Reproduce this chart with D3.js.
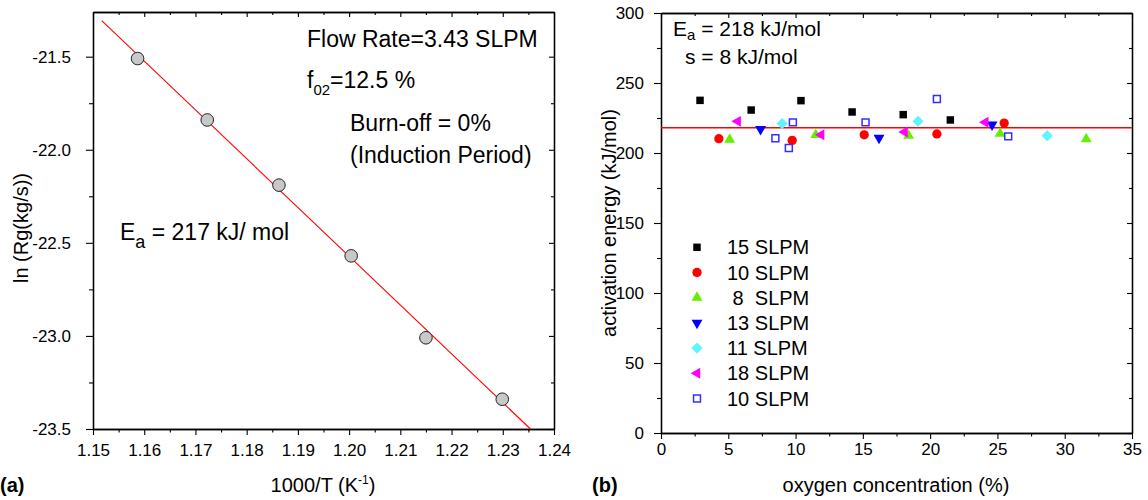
<!DOCTYPE html>
<html>
<head>
<meta charset="utf-8">
<script src="https://cdn.jsdelivr.net/npm/d3@7"></script>
<style>
  body { margin: 0; background: #fff; }
  svg { display: block; font-family: "Liberation Sans", Arial, sans-serif; }
</style>
</head>
<body>
<svg id="chart" width="1148" height="500"></svg>
<script>
// panel (a): Arrhenius plot
const invT = [1.1587, 1.1723, 1.1863, 1.2004, 1.2150, 1.2299];
const lnRg = [-21.51, -21.84, -22.19, -22.57, -23.01, -23.34];
const fitX = [1.1517, 1.2354];
const fitY = [-21.306, -23.5];
const aXTicks = [1.15, 1.16, 1.17, 1.18, 1.19, 1.20, 1.21, 1.22, 1.23, 1.24];
const aYTicks = [-23.5, -23.0, -22.5, -22.0, -21.5];

// panel (b): activation energy vs oxygen concentration
const seriesNames = ["15 SLPM", "10 SLPM", " 8  SLPM", "13 SLPM", "11 SLPM", "18 SLPM", "10 SLPM"];
const o2_15 = [2.9, 6.7, 10.4, 14.2, 18.0, 21.5];
const ea_15 = [237.6, 230.7, 237.4, 229.3, 227.4, 223.6];
const o2_10 = [4.3, 9.75, 15.1, 20.5, 25.5];
const ea_10 = [210.2, 209.0, 213.0, 213.6, 221.4];
const o2_8 = [5.1, 11.5, 18.4, 25.2, 31.6];
const ea_8 = [209.5, 213.0, 212.4, 213.8, 210.0];
const o2_13 = [7.4, 16.2, 24.6];
const ea_13 = [217.0, 210.7, 220.2];
const o2_11 = [9.0, 19.1, 28.7];
const ea_11 = [221.0, 222.6, 212.4];
const o2_18 = [5.7, 11.9, 18.1, 24.1];
const ea_18 = [222.6, 213.0, 215.0, 221.9];
const o2_10b = [8.5, 9.5, 9.8, 15.2, 20.5, 25.8];
const ea_10b = [210.5, 203.6, 221.9, 221.9, 238.6, 211.9];
const eaMean = 218;
const bXTicks = [0, 5, 10, 15, 20, 25, 30, 35];
const bYTicks = [0, 50, 100, 150, 200, 250, 300];

const svg = d3.select("#chart");
svg.append("rect").attr("width", 1148).attr("height", 500).attr("fill", "#fff");

function minorOf(ticks, step) {
  const out = [];
  for (let i = 0; i < ticks.length - 1; i++) out.push(+(ticks[i] + step).toFixed(6));
  return out;
}

function drawFrame(x, y, xt, yt, xStep, yStep, fx, fy, xPad, yPad) {
  const [yb, yt0] = y.range();
  const [xl, xr] = x.range();
  const xm = minorOf(xt, xStep), ym = minorOf(yt, yStep);
  const g = svg.append("g");
  const add = (axis, tr) => g.append("g").attr("transform", tr).call(axis.tickSizeOuter(0));
  add(d3.axisBottom(x).tickValues(xm).tickSize(3.5).tickFormat(""), `translate(0,${yb})`);
  add(d3.axisBottom(x).tickValues(xt).tickSize(6).tickPadding(xPad).tickFormat(fx), `translate(0,${yb})`);
  add(d3.axisTop(x).tickValues(xm).tickSize(-3).tickFormat(""), `translate(0,${yt0})`);
  add(d3.axisTop(x).tickValues(xt).tickSize(-5).tickFormat(""), `translate(0,${yt0})`);
  add(d3.axisLeft(y).tickValues(ym).tickSize(4).tickFormat(""), `translate(${xl},0)`);
  add(d3.axisLeft(y).tickValues(yt).tickSize(7).tickPadding(yPad).tickFormat(fy), `translate(${xl},0)`);
  add(d3.axisRight(y).tickValues(ym).tickSize(-3).tickFormat(""), `translate(${xr},0)`);
  add(d3.axisRight(y).tickValues(yt).tickSize(-5).tickFormat(""), `translate(${xr},0)`);
  g.selectAll(".domain").attr("stroke", "#000").attr("stroke-width", 1.3);
  g.selectAll(".tick line").attr("stroke", "#000").attr("stroke-width", 1.1);
  g.selectAll("text").attr("font-family", "Liberation Sans, Arial, sans-serif")
    .attr("font-size", 17).attr("fill", "#000");
  return g;
}

// ---------- panel (a) ----------
const xa = d3.scaleLinear().domain([1.15, 1.24]).range([93, 554]);
const ya = d3.scaleLinear().domain([-23.5, -21.26]).range([429, 12]);
drawFrame(xa, ya, aXTicks, aYTicks, 0.005, 0.25,
  d => d.toFixed(2), d => d.toFixed(1), 9, 15);

svg.append("line")
  .attr("x1", xa(fitX[0])).attr("y1", ya(fitY[0]))
  .attr("x2", xa(fitX[1])).attr("y2", ya(fitY[1]))
  .attr("stroke", "#ff0000").attr("stroke-width", 1.1);

svg.append("g").selectAll("circle")
  .data(invT)
  .join("circle")
  .attr("cx", d => xa(d))
  .attr("cy", (d, i) => ya(lnRg[i]))
  .attr("r", 6.3)
  .attr("fill", "#c8c8c8")
  .attr("stroke", "#222")
  .attr("stroke-width", 1);

const ta = svg.append("g").attr("font-size", 23).attr("fill", "#000");
ta.append("text").attr("x", 307).attr("y", 47).text("Flow Rate=3.43 SLPM");
const f02 = ta.append("text").attr("x", 307).attr("y", 88);
f02.append("tspan").text("f");
f02.append("tspan").attr("dy", 7).attr("font-size", 15).text("02");
f02.append("tspan").attr("dy", -7).text("=12.5 %");
ta.append("text").attr("x", 350).attr("y", 131).text("Burn-off = 0%");
ta.append("text").attr("x", 350).attr("y", 163).text("(Induction Period)");
const eaA = ta.append("text").attr("x", 120).attr("y", 240);
eaA.append("tspan").text("E");
eaA.append("tspan").attr("dy", 8).attr("font-size", 18).text("a");
eaA.append("tspan").attr("dy", -8).text(" = 217 kJ/ mol");

svg.append("text").attr("transform", "translate(28,228) rotate(-90)")
  .attr("text-anchor", "middle").attr("font-size", 20).text("ln (Rg(kg/s))");
const xtA = svg.append("text").attr("x", 323).attr("y", 492)
  .attr("text-anchor", "middle").attr("font-size", 20);
xtA.append("tspan").text("1000/T (K");
xtA.append("tspan").attr("dy", -8).attr("font-size", 12).text("-1");
xtA.append("tspan").attr("dy", 8).text(")");
svg.append("text").attr("x", 0).attr("y", 492).attr("font-size", 20)
  .attr("font-weight", "bold").text("(a)");

// ---------- panel (b) ----------
const xb = d3.scaleLinear().domain([0, 35]).range([661, 1132]);
const yb = d3.scaleLinear().domain([0, 300]).range([433, 13]);
drawFrame(xb, yb, bXTicks, bYTicks, 2.5, 25, d => d, d => d, 4, 10);

svg.append("line")
  .attr("x1", xb(0)).attr("x2", xb(35))
  .attr("y1", yb(eaMean)).attr("y2", yb(eaMean))
  .attr("stroke", "#ff0000").attr("stroke-width", 1.4);

const sq = d3.symbol(d3.symbolSquare, 56)();
const circ = d3.symbol(d3.symbolCircle, 68)();
const tri = d3.symbol(d3.symbolTriangle, 52)();
const dia = d3.symbol(d3.symbolSquare, 62)();
const openSq = d3.symbol(d3.symbolSquare, 48)();

const series = [
  { name: seriesNames[0], xs: o2_15, ys: ea_15, path: sq, rot: 0, fill: "#000", stroke: "none" },
  { name: seriesNames[1], xs: o2_10, ys: ea_10, path: circ, rot: 0, fill: "#ff0000", stroke: "none" },
  { name: seriesNames[2], xs: o2_8, ys: ea_8, path: tri, rot: 0, fill: "#66ee00", stroke: "none" },
  { name: seriesNames[3], xs: o2_13, ys: ea_13, path: tri, rot: 180, fill: "#0000ff", stroke: "none" },
  { name: seriesNames[4], xs: o2_11, ys: ea_11, path: dia, rot: 45, fill: "#5ff5ff", stroke: "none" },
  { name: seriesNames[5], xs: o2_18, ys: ea_18, path: tri, rot: -90, fill: "#ff00ff", stroke: "none" },
  { name: seriesNames[6], xs: o2_10b, ys: ea_10b, path: openSq, rot: 0, fill: "#fff", stroke: "#3030ff" }
];

series.forEach(s => {
  svg.append("g").selectAll("path")
    .data(s.xs)
    .join("path")
    .attr("d", s.path)
    .attr("transform", (d, i) => `translate(${xb(d)},${yb(s.ys[i])}) rotate(${s.rot})`)
    .attr("fill", s.fill)
    .attr("stroke", s.stroke)
    .attr("stroke-width", 1.5);
});

// legend
const legend = svg.append("g").attr("font-size", 20);
series.forEach((s, i) => {
  const cy = 247.3 + i * 25.2;
  legend.append("path").attr("d", s.path)
    .attr("transform", `translate(697,${cy}) rotate(${s.rot})`)
    .attr("fill", s.fill).attr("stroke", s.stroke).attr("stroke-width", 1.5);
  legend.append("text").attr("x", 727).attr("y", cy + 7)
    .style("white-space", "pre").text(s.name);
});

const tb = svg.append("g").attr("font-size", 21);
const eaB = tb.append("text").attr("x", 673).attr("y", 36);
eaB.append("tspan").text("E");
eaB.append("tspan").attr("dy", 4).attr("font-size", 15).text("a");
eaB.append("tspan").attr("dy", -4).text(" = 218 kJ/mol");
tb.append("text").attr("x", 685).attr("y", 64).text("s = 8 kJ/mol");

svg.append("text").attr("transform", "translate(616,223) rotate(-90)")
  .attr("text-anchor", "middle").attr("font-size", 20).text("activation energy (kJ/mol)");
svg.append("text").attr("x", 896).attr("y", 492)
  .attr("text-anchor", "middle").attr("font-size", 20).text("oxygen concentration (%)");
svg.append("text").attr("x", 592).attr("y", 492).attr("font-size", 20)
  .attr("font-weight", "bold").text("(b)");
</script>
</body>
</html>
